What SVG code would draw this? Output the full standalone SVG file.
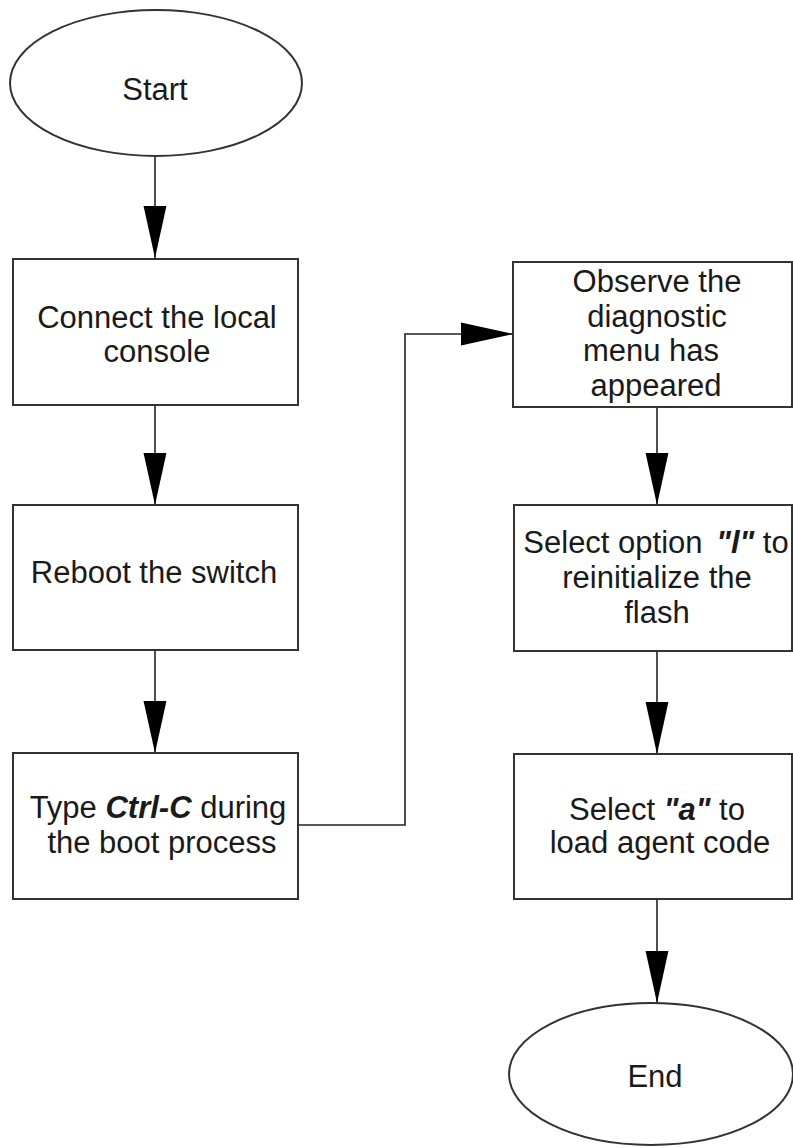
<svg xmlns="http://www.w3.org/2000/svg" width="793" height="1148" viewBox="0 0 793 1148">
<defs>
<style>
.shape{fill:#fff;stroke:#333;stroke-width:2}
.t{font-family:"Liberation Sans",Arial,sans-serif;font-size:31px;fill:#1a1a1a;text-anchor:middle}
.bi{font-weight:bold;font-style:italic}
.c{fill:none;stroke:#222;stroke-width:1.6}
</style>
<marker id="arr" markerUnits="userSpaceOnUse" markerWidth="52" markerHeight="24" viewBox="0 0 50 22" refX="50" refY="11" orient="auto">
<path d="M0,0 L50,11 L0,22 Z" fill="#000"/>
</marker>
</defs>
<rect width="793" height="1148" fill="#fff"/>
<g id="connectors">
<line class="c" x1="155" y1="157" x2="155" y2="258" marker-end="url(#arr)"/>
<line class="c" x1="155" y1="405" x2="155" y2="505" marker-end="url(#arr)"/>
<line class="c" x1="155" y1="650" x2="155" y2="753" marker-end="url(#arr)"/>
<polyline class="c" points="298,825 405,825 405,334 513,334" marker-end="url(#arr)"/>
<line class="c" x1="657" y1="407" x2="657" y2="505" marker-end="url(#arr)"/>
<line class="c" x1="657" y1="651" x2="657" y2="754" marker-end="url(#arr)"/>
<line class="c" x1="657" y1="899" x2="657" y2="1003" marker-end="url(#arr)"/>
</g>
<g id="start">
<ellipse class="shape" cx="156" cy="83" rx="146" ry="73"/>
<text class="t" x="155" y="100">Start</text>
</g>
<g id="connect">
<rect class="shape" x="13" y="259" width="285" height="146"/>
<text class="t" x="157" y="328">Connect the local</text>
<text class="t" x="157" y="362">console</text>
</g>
<g id="reboot">
<rect class="shape" x="13" y="505" width="285" height="145"/>
<text class="t" x="154" y="583">Reboot the switch</text>
</g>
<g id="ctrlc">
<rect class="shape" x="13" y="753" width="285" height="146"/>
<text class="t" x="158" y="818">Type <tspan class="bi">Ctrl-C</tspan> during</text>
<text class="t" x="162" y="853">the boot process</text>
</g>
<g id="observe">
<rect class="shape" x="513" y="262" width="279" height="145"/>
<text class="t" x="657" y="292">Observe the</text>
<text class="t" x="657" y="327">diagnostic</text>
<text class="t" x="651" y="361">menu has</text>
<text class="t" x="656" y="396">appeared</text>
</g>
<g id="select-l">
<rect class="shape" x="514" y="505" width="278" height="146"/>
<text class="t" x="656" y="553">Select option <tspan class="bi" dx="5">"l"</tspan> to</text>
<text class="t" x="657" y="588">reinitialize the</text>
<text class="t" x="657" y="623">flash</text>
</g>
<g id="select-a">
<rect class="shape" x="514" y="754" width="278" height="145"/>
<text class="t" x="657" y="820">Select <tspan class="bi">"a"</tspan> to</text>
<text class="t" x="660" y="853">load agent code</text>
</g>
<g id="end">
<ellipse class="shape" cx="651" cy="1074" rx="142" ry="71"/>
<text class="t" x="655" y="1087">End</text>
</g>
</svg>
